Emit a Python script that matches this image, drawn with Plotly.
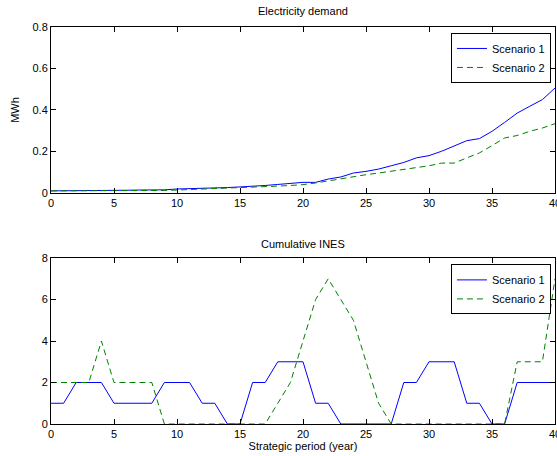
import plotly.graph_objects as go
from plotly.subplots import make_subplots

years = list(range(0, 41))

demand_s1 = [0.010, 0.010, 0.010, 0.010, 0.010, 0.011, 0.013, 0.014, 0.014, 0.015,
             0.019, 0.020, 0.023, 0.024, 0.026, 0.029, 0.031, 0.036, 0.041, 0.046,
             0.051, 0.051, 0.067, 0.077, 0.096, 0.104, 0.115, 0.131, 0.147, 0.169,
             0.180, 0.201, 0.225, 0.252, 0.262, 0.297, 0.340, 0.385, 0.418, 0.450,
             0.506]
demand_s2 = [0.010, 0.010, 0.010, 0.010, 0.010, 0.010, 0.011, 0.011, 0.012, 0.012,
             0.014, 0.016, 0.019, 0.021, 0.024, 0.026, 0.028, 0.030, 0.033, 0.036,
             0.040, 0.048, 0.058, 0.067, 0.080, 0.088, 0.096, 0.104, 0.112, 0.120,
             0.131, 0.144, 0.144, 0.169, 0.193, 0.228, 0.265, 0.277, 0.297, 0.313,
             0.334]

ines_s1 = [1, 1, 2, 2, 2, 1, 1, 1, 1, 2, 2, 2, 1, 1, 0, 0, 2, 2, 3, 3, 3,
           1, 1, 0, 0, 0, 0, 0, 2, 2, 3, 3, 3, 1, 1, 0, 0, 2, 2, 2, 2]
ines_s2 = [2, 2, 2, 2, 4, 2, 2, 2, 2, 0, 0, 0, 0, 0, 0, 0, 0, 0, 1, 2, 4,
           6, 7, 6, 5, 3, 1, 0, 0, 0, 0, 0, 0, 0, 0, 0, 0, 3, 3, 3, 7]

x_ticks = [0, 5, 10, 15, 20, 25, 30, 35, 40]
top_y_ticks = [0, 0.2, 0.4, 0.6, 0.8]
bot_y_ticks = [0, 2, 4, 6, 8]

names = ["Scenario 1", "Scenario 2"]
titles = ["Electricity demand", "Cumulative INES"]

BLUE = "#0000ff"
GREEN = "#008000"
FONT = "Liberation Sans, Arial, sans-serif"

fig = make_subplots(rows=2, cols=1, vertical_spacing=0.164)

fig.add_trace(go.Scatter(x=years, y=demand_s1, mode="lines", name=names[0],
                         line=dict(color=BLUE, width=1), legend="legend"), row=1, col=1)
fig.add_trace(go.Scatter(x=years, y=demand_s2, mode="lines", name=names[1],
                         line=dict(color=GREEN, width=1, dash="6px,4px"), legend="legend"), row=1, col=1)
fig.add_trace(go.Scatter(x=years, y=ines_s1, mode="lines", name=names[0],
                         line=dict(color=BLUE, width=1), legend="legend2"), row=2, col=1)
fig.add_trace(go.Scatter(x=years, y=ines_s2, mode="lines", name=names[1],
                         line=dict(color=GREEN, width=1, dash="6px,4px"), legend="legend2"), row=2, col=1)

axis_common = dict(showline=True, linecolor="black", linewidth=1, mirror="allticks",
                   ticks="inside", ticklen=5, tickcolor="black", showgrid=False,
                   zeroline=False, automargin=False,
                   tickfont=dict(family=FONT, size=11, color="black"))

fig.update_xaxes(range=[0, 40], tickvals=x_ticks, ticktext=[str(v) for v in x_ticks],
                 ticklabeloverflow="allow", **axis_common)
fig.update_yaxes(range=[0, 0.8], tickvals=top_y_ticks, ticktext=["0", "0.2", "0.4", "0.6", "0.8"],
                 row=1, col=1, **axis_common)
fig.update_yaxes(range=[0, 8], tickvals=bot_y_ticks, ticktext=[str(v) for v in bot_y_ticks],
                 row=2, col=1, **axis_common)

fig.update_layout(
    xaxis=dict(domain=[0, 1]),
    yaxis=dict(domain=[0.582, 1.0], title=dict(text="MWh", font=dict(family=FONT, size=11, color="black"), standoff=10)),
    yaxis2=dict(domain=[0.0, 0.418]),
    xaxis2=dict(title=dict(text="Strategic period (year)", font=dict(family=FONT, size=11, color="black"), standoff=2)),
)

legend_style = dict(xanchor="right", yanchor="top", bordercolor="black", borderwidth=1,
                    bgcolor="white", font=dict(family=FONT, size=11, color="black"),
                    tracegroupgap=0, itemwidth=30)
fig.update_layout(
    legend=dict(x=0.992, y=0.985, **legend_style),
    legend2=dict(x=0.992, y=0.402, **legend_style),
)

fig.add_annotation(text=titles[0], xref="paper", yref="paper", x=0.5, y=1.0, yshift=8,
                   xanchor="center", yanchor="bottom", showarrow=False,
                   font=dict(family=FONT, size=11, color="black"))
fig.add_annotation(text=titles[1], xref="paper", yref="paper", x=0.5, y=0.418, yshift=6,
                   xanchor="center", yanchor="bottom", showarrow=False,
                   font=dict(family=FONT, size=11, color="black"))

fig.update_layout(width=557, height=456, margin=dict(l=51, r=2, t=27, b=32),
                  paper_bgcolor="white", plot_bgcolor="white",
                  font=dict(family=FONT, size=11, color="black"))

fig.write_html("out.html", config={"displayModeBar": False},
               post_script="document.body.style.margin='0';document.body.style.padding='0';document.body.style.overflow='hidden';")
